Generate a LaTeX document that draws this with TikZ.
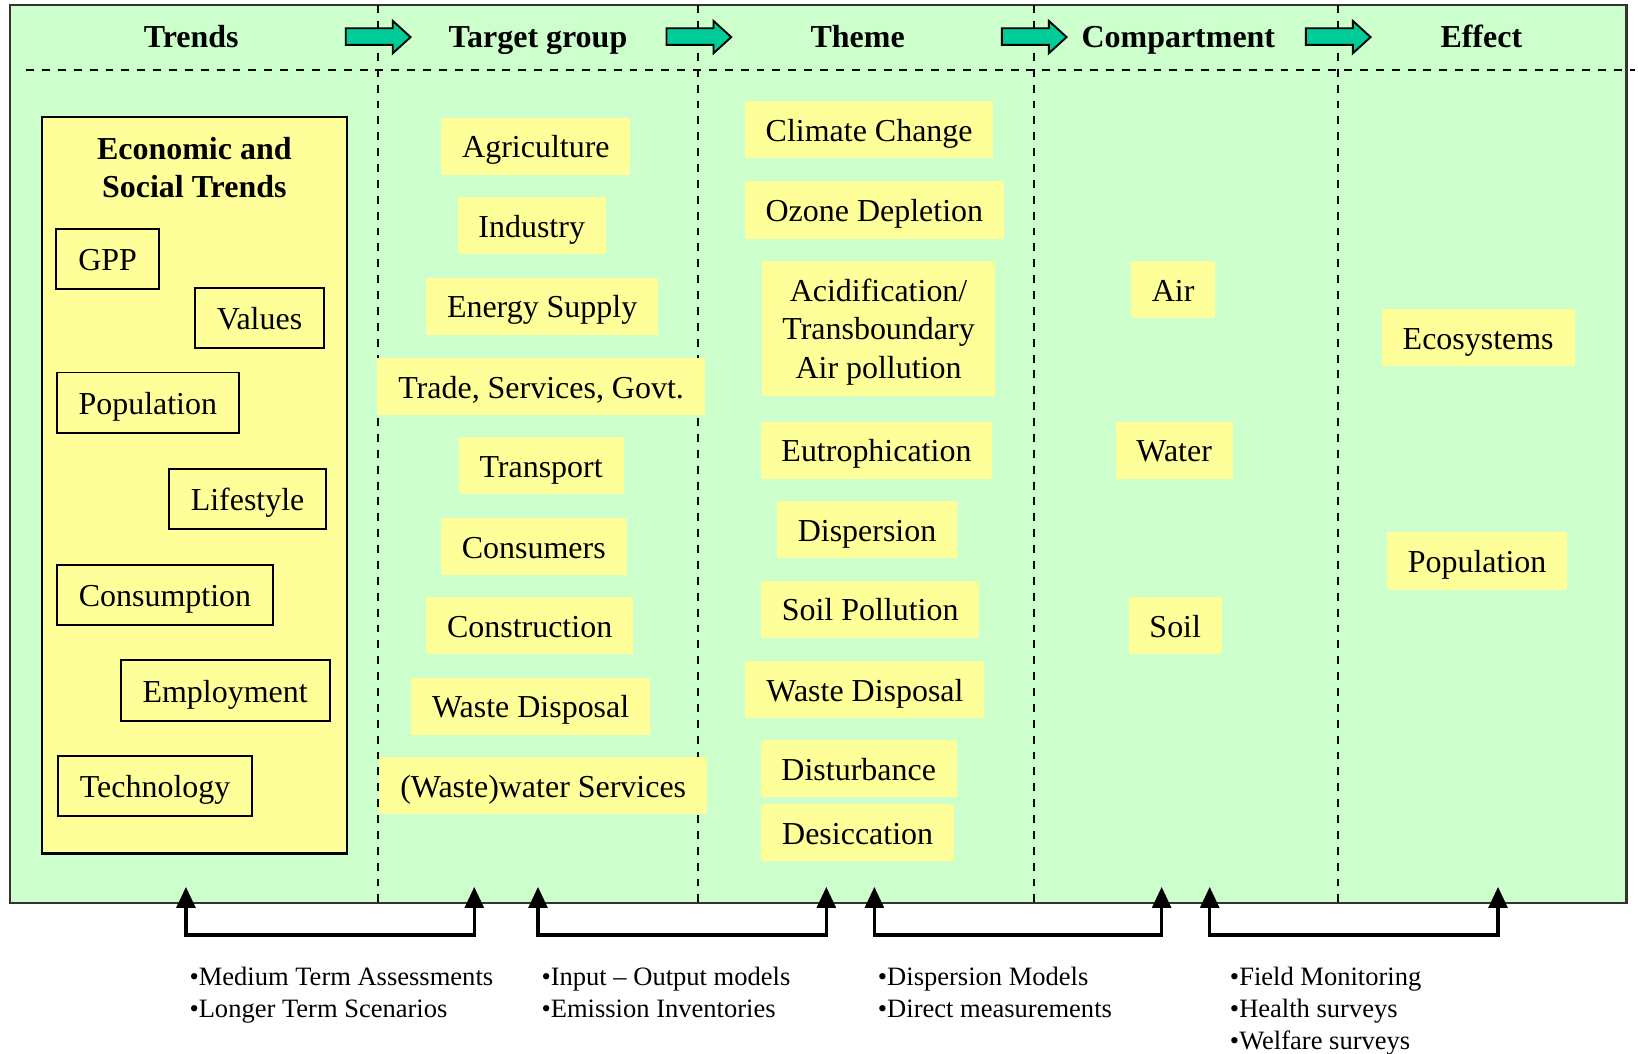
\documentclass[tikz,border=0pt]{standalone}
\usepackage{fontspec}
\setmainfont{Liberation Serif}
\usetikzlibrary{arrows.meta}
\definecolor{panelgreen}{HTML}{CCFFCC}
\definecolor{notepad}{HTML}{FFFF99}
\definecolor{flowteal}{HTML}{00CC99}
\tikzset{
% Yellow note boxes, framed trend boxes and column headings
note node/.style={fill=notepad,inner xsep=10pt,minimum height=27.3pt,text height=14.5pt,text depth=3.3pt,font=\fontsize{15.3}{18.3}\selectfont},
trend node/.style={draw,line width=0.9pt,fill=notepad,inner xsep=10.5pt,minimum height=28.9pt,text height=14.5pt,text depth=3.3pt,font=\fontsize{15.3}{18.3}\selectfont},
head node/.style={anchor=base,font=\fontsize{15.3}{18.3}\selectfont\bfseries},
method node/.style={anchor=north west,inner sep=0pt,align=left,font=\fontsize{12.7}{15.3}\selectfont},
column line/.style={dash pattern=on 3.8pt off 3.8pt,line width=0.8pt},
link arrow/.style={line width=1.5pt,{Triangle[width=9pt,length=10pt]}-{Triangle[width=9pt,length=10pt]}}
}

\begin{document}
\begin{tikzpicture}[x=0.5pt,y=-0.5pt]
\useasboundingbox (0,0) rectangle (1568,1008);
% panel and column rules
\draw[fill=panelgreen,draw=black!80,line width=1pt] (10,5) rectangle (1557,864);
\draw[column line] (25,67) -- (1565,67);
\foreach \x in {362,668,990,1281}
  \draw[column line] (\x,5) -- (\x,864);

% header arrows
\foreach \x in {331,638,959,1250}
  \draw[fill=flowteal,line width=0.9pt] (\x,27) -- ++(45,0) -- ++(0,-7) -- ++(17,15.5)
    -- ++(-17,15.5) -- ++(0,-8) -- ++(-45,0) -- cycle;

\node[head node] (trends) at (183,45) {Trends};
\node[head node] (target) at (515,45) {Target group};
\node[head node] (theme) at (821,45) {Theme};
\node[head node] (compartment) at (1128,45) {Compartment};
\node[head node] (effect) at (1418,45) {Effect};

% trends
\node[draw,fill=notepad,line width=1pt,minimum width=146pt,minimum height=352.5pt] (econ) at (186,464.5) {};
\node[head node,align=center] (econtitle) at (186,189) {Economic and\\Social Trends};
\node[trend node] (gpp) at (103,248) {GPP};
\node[trend node] (values) at (248.5,304.5) {Values};
\node[trend node] (population) at (141.5,385.5) {Population};
\node[trend node] (lifestyle) at (237,477.5) {Lifestyle};
\node[trend node] (consumption) at (158,569.5) {Consumption};
\node[trend node] (employment) at (215.5,661) {Employment};
\node[trend node] (technology) at (148.5,752.5) {Technology};

% target groups
\node[note node] (agriculture) at (513,140) {Agriculture};
\node[note node] (industry) at (509,216) {Industry};
\node[note node] (energy) at (519,293) {Energy Supply};
\node[note node] (trade) at (518,370) {Trade, Services, Govt.};
\node[note node] (transport) at (518,446) {Transport};
\node[note node] (consumers) at (511,523) {Consumers};
\node[note node] (construction) at (507,599) {Construction};
\node[note node] (wastetarget) at (508,676) {Waste Disposal};
\node[note node] (wastewater) at (520,752) {(Waste)water Services};

% themes
\node[note node] (climate) at (832,124) {Climate Change};
\node[note node] (ozone) at (837,201) {Ozone Depletion};
\node[fill=notepad,minimum width=111.4pt,minimum height=64.5pt] (acidbox) at (841,314.3) {};
\node[anchor=base,align=center,font=\fontsize{15.3}{18.3}\selectfont] (acid) at (841,362) {Acidification/\\Transboundary\\Air pollution};
\node[note node] (eutro) at (839,431) {Eutrophication};
\node[note node] (dispersion) at (830,507) {Dispersion};
\node[note node] (soilpol) at (833,583) {Soil Pollution};
\node[note node] (wastetheme) at (828,660) {Waste Disposal};
\node[note node] (disturbance) at (822,736) {Disturbance};
\node[note node] (desiccation) at (821,797) {Desiccation};

% compartments
\node[note node] (air) at (1123,277) {Air};
\node[note node] (water) at (1124,431) {Water};
\node[note node] (soil) at (1125,599) {Soil};

% effects
\node[note node] (ecosystems) at (1415,323) {Ecosystems};
\node[note node] (people) at (1414,537) {Population};

% method links
\coordinate (link1a) at (178,849);
\coordinate (link1b) at (454,849);
\coordinate (link2a) at (515,849);
\coordinate (link2b) at (791,849);
\coordinate (link3a) at (837,849);
\coordinate (link3b) at (1112,849);
\coordinate (link4a) at (1158,849);
\coordinate (link4b) at (1434,849);
\foreach \i in {1,...,4}
  \draw[link arrow] (link\i a) -- ++(0,46) -| (link\i b);

\node[method node] (assess) at (181,925.7) {•Medium Term Assessments\\•Longer Term Scenarios};
\node[method node] (models) at (518,925.7) {•Input – Output models\\•Emission Inventories};
\node[method node] (measure) at (840,925.7) {•Dispersion Models\\•Direct measurements};
\node[method node] (surveys) at (1177,925.7) {•Field Monitoring\\•Health surveys\\•Welfare surveys};
\end{tikzpicture}
\end{document}
